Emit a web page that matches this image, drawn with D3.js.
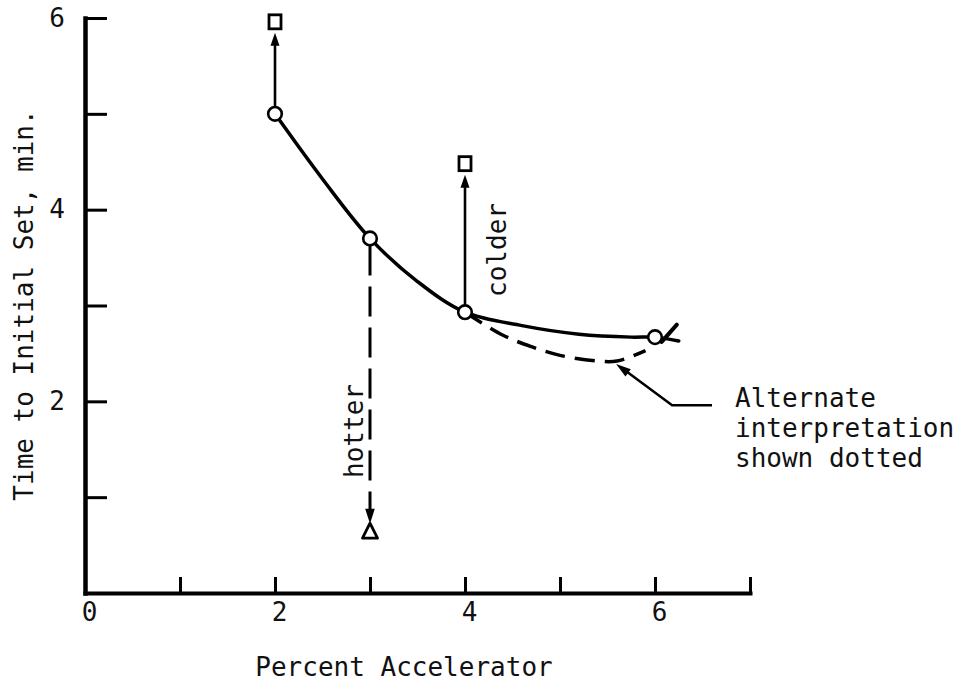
<!DOCTYPE html>
<html>
<head>
<meta charset="utf-8">
<script src="https://cdn.jsdelivr.net/npm/d3@7"></script>
<style>
  body { margin: 0; background: #fff; }
  svg text { font-family: "DejaVu Sans Mono", monospace; font-size: 26px; fill: #111; }
</style>
</head>
<body>
<svg id="chart" width="962" height="687"></svg>
<script>
// ---- data ----
const xTicks = [0, 1, 2, 3, 4, 5, 6, 7];
const xTickLabels = [0, 2, 4, 6];
const yTicks = [1, 2, 3, 4, 5, 6];
const yTickLabels = [2, 4, 6];

// measured set times (open circles)
const accel = [2, 3, 4, 6];
const setTime = [5.0, 3.7, 2.93, 2.67];

// faired curve through the measurements
const curveX = [2, 2.5, 3, 3.5, 4, 4.6, 5.2, 5.75, 6, 6.25];
const curveY = [5.0, 4.32, 3.7, 3.25, 2.93, 2.79, 2.7, 2.67, 2.67, 2.63];

// alternate interpretation (dashed)
const altX = [4, 4.4, 4.7, 5.0, 5.4, 5.6, 5.9];
const altY = [2.93, 2.69, 2.57, 2.48, 2.42, 2.42, 2.53];

// shift with colder mix (squares)
const colderX = [2, 4];
const colderFrom = [5.0, 2.93];
const colderTo = [5.96, 4.48];

// shift with hotter mix (triangle)
const hotterX = [3];
const hotterFrom = [3.7];
const hotterTo = [0.65];

// leader from note to dashed curve, in data units
const leader = [[6.6, 1.96], [6.18, 1.96], [5.59, 2.39]];
const noteLines = ["Alternate", "interpretation", "shown dotted"];
const checkMark = [[6.07, 2.62], [6.23, 2.8]];

// ---- scales ----
const svg = d3.select("#chart");
const x = d3.scaleLinear().domain([0, 7]).range([85, 750]);
const y = d3.scaleLinear().domain([0, 6]).range([593, 18]);

// ---- axes ----
const xAxis = svg.append("g")
  .attr("transform", `translate(0,${y(0)})`)
  .call(d3.axisBottom(x).tickValues(xTicks).tickSize(-16).tickSizeOuter(0)
    .tickPadding(10)
    .tickFormat(d => xTickLabels.includes(d) ? d : ""));
xAxis.select(".domain").attr("stroke", "#000").attr("stroke-width", 4);
xAxis.selectAll(".tick line").attr("stroke", "#000").attr("stroke-width", 3);
xAxis.selectAll(".tick text").attr("dx", 4).style("font-size", "26px").attr("fill", "#111");

const yAxis = svg.append("g")
  .attr("transform", `translate(${x(0)},0)`)
  .call(d3.axisLeft(y).tickValues(yTicks).tickSize(-22).tickSizeOuter(0)
    .tickPadding(20)
    .tickFormat(d => yTickLabels.includes(d) ? d : ""));
yAxis.select(".domain").attr("stroke", "#000").attr("stroke-width", 4.5);
yAxis.selectAll(".tick line").attr("stroke", "#000").attr("stroke-width", 3);
yAxis.selectAll(".tick text").style("font-size", "26px").attr("fill", "#111");
svg.selectAll(".domain").attr("stroke-linecap", "square");

// axis titles
svg.append("text").attr("x", 404).attr("y", 676)
  .attr("text-anchor", "middle").text("Percent Accelerator");
svg.append("text").attr("transform", "translate(33,305) rotate(-90)")
  .attr("text-anchor", "middle").text("Time to Initial Set, min.");

// ---- curves ----
const line = d3.line().x(d => x(d[0])).y(d => y(d[1])).curve(d3.curveCatmullRom.alpha(0.5));

svg.append("path")
  .attr("d", line(d3.zip(altX, altY)))
  .attr("fill", "none").attr("stroke", "#000").attr("stroke-width", 3.5)
  .attr("stroke-dasharray", "20,10");

svg.append("path")
  .attr("d", line(d3.zip(curveX, curveY)))
  .attr("fill", "none").attr("stroke", "#000").attr("stroke-width", 3.5)
  .attr("stroke-linecap", "round");

// check mark at the end of the curve
svg.append("line")
  .attr("x1", x(checkMark[0][0])).attr("y1", y(checkMark[0][1]))
  .attr("x2", x(checkMark[1][0])).attr("y2", y(checkMark[1][1]))
  .attr("stroke", "#000").attr("stroke-width", 4).attr("stroke-linecap", "round");

// arrowhead helper: tip at (tx,ty), pointing in direction (ux,uy)
function arrowHead(tx, ty, ux, uy, len, half) {
  const bx = tx - ux * len, by = ty - uy * len;
  const px = -uy, py = ux;
  svg.append("path")
    .attr("d", `M${tx},${ty}L${bx + px * half},${by + py * half}L${bx - px * half},${by - py * half}Z`)
    .attr("fill", "#000");
}

// ---- colder shifts ----
colderX.forEach((cx, i) => {
  const px = x(cx);
  const top = y(colderTo[i]) + 11;
  svg.append("line")
    .attr("x1", px).attr("x2", px)
    .attr("y1", y(colderFrom[i]) - 6).attr("y2", top + 8)
    .attr("stroke", "#000").attr("stroke-width", 2.6);
  arrowHead(px, top, 0, -1, 13, 4.5);
});

// ---- hotter shift ----
hotterX.forEach((hx, i) => {
  const px = x(hx);
  const tip = y(hotterTo[i]) - 7;
  svg.append("line")
    .attr("x1", px).attr("x2", px)
    .attr("y1", y(hotterFrom[i]) + 7).attr("y2", tip - 8)
    .attr("stroke", "#000").attr("stroke-width", 3)
    .attr("stroke-dasharray", "30,11");
  arrowHead(px, tip, 0, 1, 15, 4.8);
});

svg.append("text").attr("transform", `translate(506,250) rotate(-90)`)
  .attr("text-anchor", "middle").text("colder");
svg.append("text").attr("transform", `translate(363,431) rotate(-90)`)
  .attr("text-anchor", "middle").text("hotter");

// ---- markers ----
svg.selectAll("circle.pt").data(d3.zip(accel, setTime)).join("circle")
  .attr("class", "pt")
  .attr("cx", d => x(d[0])).attr("cy", d => y(d[1])).attr("r", 6.8)
  .attr("fill", "#fff").attr("stroke", "#000").attr("stroke-width", 2.6);

svg.selectAll("rect.sq").data(d3.zip(colderX, colderTo)).join("rect")
  .attr("class", "sq")
  .attr("x", d => x(d[0]) - 6).attr("y", d => y(d[1]) - 7)
  .attr("width", 12).attr("height", 14)
  .attr("fill", "#fff").attr("stroke", "#000").attr("stroke-width", 2.8);

svg.selectAll("path.tri").data(d3.zip(hotterX, hotterTo)).join("path")
  .attr("class", "tri")
  .attr("d", d => {
    const cx = x(d[0]), cy = y(d[1]);
    return `M${cx},${cy - 7.5}L${cx + 7.5},${cy + 7.5}L${cx - 7.5},${cy + 7.5}Z`;
  })
  .attr("fill", "#fff").attr("stroke", "#000").attr("stroke-width", 2.8)
  .attr("stroke-linejoin", "round");

// ---- note with leader ----
svg.append("path")
  .attr("d", d3.line().x(d => x(d[0])).y(d => y(d[1]))(leader.slice(0, 2).concat([[leader[2][0] + 0.1, leader[2][1] - 0.07]])))
  .attr("fill", "none").attr("stroke", "#000").attr("stroke-width", 2.5);
{
  const t = leader[2], b = leader[1];
  const dx = x(t[0]) - x(b[0]), dy = y(t[1]) - y(b[1]);
  const L = Math.hypot(dx, dy);
  arrowHead(x(t[0]), y(t[1]), dx / L, dy / L, 15, 4.5);
}

svg.append("g").selectAll("text").data(noteLines).join("text")
  .attr("x", 735).attr("y", (d, i) => 407 + i * 30)
  .text(d => d);
</script>
</body>
</html>
